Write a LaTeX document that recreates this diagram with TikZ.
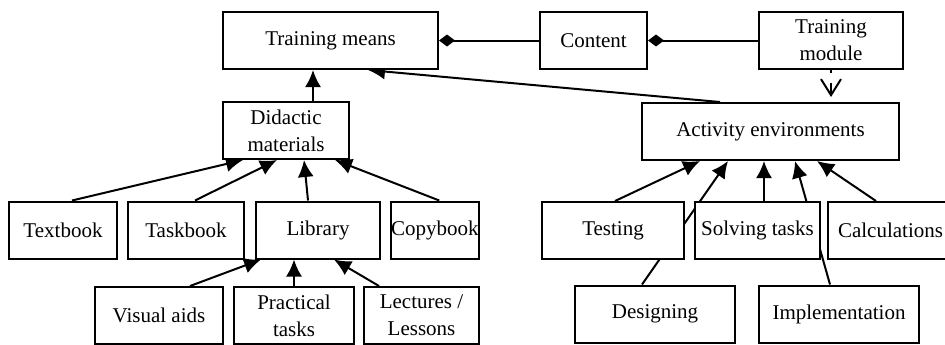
\documentclass[tikz,border=0pt]{standalone}
\usepackage{fontspec}
\setmainfont{Liberation Serif}
\usetikzlibrary{positioning,arrows.meta,backgrounds}

\begin{document}
\begin{tikzpicture}[x=0.5pt, y=-0.5pt, font=\fontsize{10.5}{13.5}\selectfont,
  every node/.style={draw, fill=white, line width=1pt, minimum height=28.5pt, inner xsep=0pt, inner ysep=0pt, align=center},
  conn/.style={-{Latex[length=8.5pt,width=8pt]}, line width=1pt},
  agg/.style={{Diamond[length=8pt,width=6pt]}-, line width=1pt},
  dep/.style={-{Straight Barb[length=8pt,width=10pt]}, line width=1pt, dash pattern=on 1.5pt off 5pt on 30pt, shorten >=2.5pt}]
\useasboundingbox (0,0) rectangle (945,344);
% top row
\node[minimum width=107.5pt] (means) at (330.5,40.5) {Training means};
\node[minimum width=53.5pt, right=50pt of means] (content) {Content};
\node[minimum width=72pt, right=55pt of content] (module) {Training\\module};
% second row
\node[minimum width=63pt] (didactic) at (286,130.5) {Didactic\\materials};
\node[minimum width=128.5pt] (activity) at (770.5,131.5) {Activity environments};
% materials
\node[minimum width=54pt] (textbook) at (63,230) {Textbook};
\node[minimum width=58pt, right=4.5pt of textbook] (taskbook) {Taskbook};
\node[minimum width=62pt, right=5pt of taskbook] (library) {Library};
\node[minimum width=43.5pt, right=4.5pt of library] (copybook) {Copybook};
\node[minimum width=64pt] (visual) at (159,315.5) {Visual aids};
\node[minimum width=60pt, right=4.5pt of visual] (practical) {Practical\\tasks};
\node[minimum width=57.5pt, right=4pt of practical] (lectures) {Lectures /\\Lessons};
% activities
\node[minimum width=71pt] (testing) at (613,230.5) {Testing};
\node[minimum width=62.5pt, right=4.5pt of testing] (solving) {Solving tasks};
\node[minimum width=62.5pt, right=3pt of solving] (calc) {Calculations};
\node[minimum width=80pt] (designing) at (655,314) {Designing};
\node[minimum width=80pt, right=11pt of designing] (implement) {Implementation};

\begin{scope}[on background layer]
\draw[agg] (means.east) -- (content.west);
\draw[agg] (content.east) -- (module.west);
\draw[dep] (module.south) -- (module.south |- activity.north);
\draw[conn] (didactic.north -| 313,0) -- (means.south -| 313,0);
\draw[conn] ([xshift=-25.25pt]activity.north) -- ([xshift=18.75pt]means.south);
\draw[conn] ([xshift=4.5pt]textbook.north) -- ([xshift=-21.5pt]didactic.south);
\draw[conn] ([xshift=4.5pt]taskbook.north) -- ([xshift=-4.5pt]didactic.south);
\draw[conn] ([xshift=-5pt]library.north) -- ([xshift=9pt]didactic.south);
\draw[conn] ([xshift=2.25pt]copybook.north) -- ([xshift=24.5pt]didactic.south);
\draw[conn] ([xshift=15.5pt]visual.north) -- ([xshift=-28.5pt]library.south);
\draw[conn] (practical.north) -- (practical.north |- library.south);
\draw[conn] ([xshift=-21.25pt]lectures.north) -- ([xshift=8pt]library.south);
\draw[conn] ([xshift=1pt]testing.north) -- ([xshift=-35.25pt]activity.south);
\draw[conn] ([xshift=-6.5pt]designing.north) -- ([xshift=-21.25pt]activity.south);
\draw[conn] ([xshift=3.25pt]solving.north) -- ([xshift=3.25pt]solving.north |- activity.south);
\draw[conn] ([xshift=-4.5pt]implement.north) -- ([xshift=12.25pt]activity.south);
\draw[conn] ([xshift=-7.25pt]calc.north) -- ([xshift=23.25pt]activity.south);
\end{scope}
\end{tikzpicture}
\end{document}
